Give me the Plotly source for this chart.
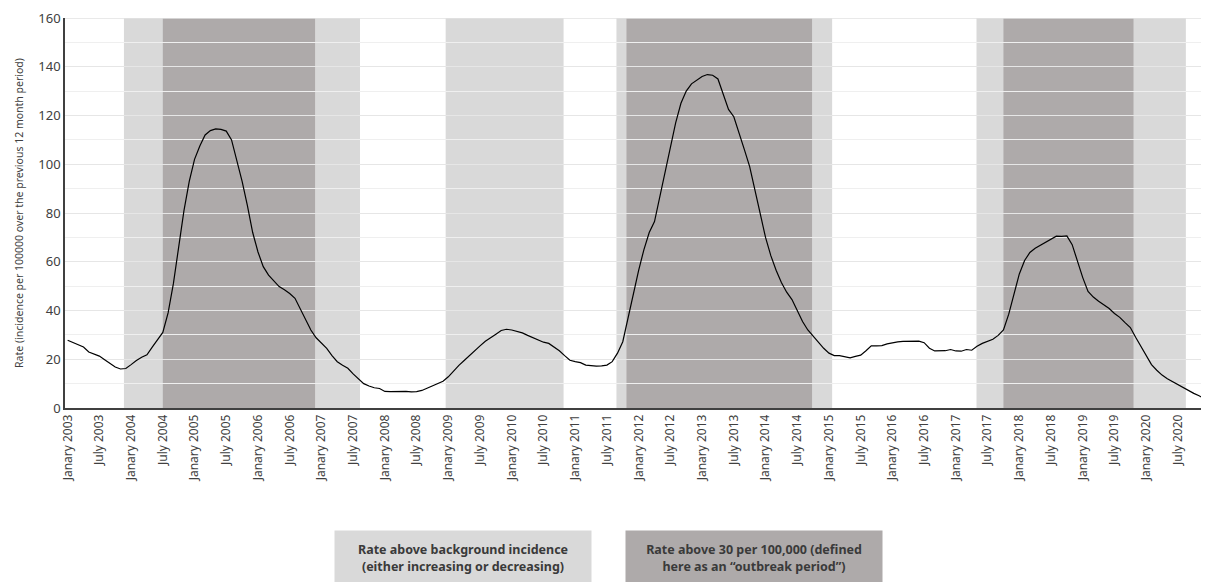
import plotly.graph_objects as go

# ---- data ----
start_year = 2003
rate = [
    27.8, 26.8, 26.0, 25.0, 23.0, 22.2, 21.3, 19.8, 18.2, 16.8, 16.0, 16.2,
    17.8, 19.5, 20.8, 21.8, 25.0, 28.0, 31.0, 39.0, 51.0, 66.0, 81.0, 93.0,
    102.0, 107.5, 112.0, 113.8, 114.5, 114.3, 113.6, 110.0, 102.0, 93.0, 83.0, 72.0,
    64.0, 58.0, 54.5, 52.0, 49.8, 48.5, 47.0, 45.0, 40.5, 36.5, 32.0, 28.8,
    26.8, 24.5, 21.5, 19.0, 17.5, 16.3, 14.0, 11.8, 10.0, 9.0, 8.3, 8.0,
    6.8, 6.7, 6.8, 7.0, 6.8, 6.6, 6.7, 7.2, 8.2, 9.0, 10.0, 11.0,
    12.8, 15.2, 17.5, 19.5, 21.6, 23.5, 25.5, 27.4, 29.0, 30.3, 31.8, 32.3,
    32.0, 31.5, 30.8, 29.8, 28.8, 27.8, 27.0, 26.5, 25.0, 23.5, 21.5, 19.6,
    19.0, 18.6, 17.6, 17.3, 17.2, 17.3, 17.6, 19.0, 22.5, 27.2, 37.0, 47.0,
    56.5, 65.0, 72.0, 76.5, 87.0, 97.0, 107.0, 117.0, 125.0, 130.0, 133.0, 134.5,
    136.0, 136.8, 136.5, 135.0, 129.0, 122.5, 119.5, 113.0, 106.0, 99.0, 89.0, 79.0,
    70.0, 62.5, 56.5, 51.5, 47.5, 44.5, 40.0, 35.5, 32.0, 29.5, 27.0, 24.5,
    22.5, 21.5, 21.5, 21.2, 20.6, 21.2, 21.7, 23.5, 25.5, 25.5, 25.6, 26.3,
    26.8, 27.1, 27.3, 27.4, 27.4, 27.4, 26.8, 24.5, 23.4, 23.4, 23.5, 24.0,
    23.4, 23.3, 24.0, 23.7, 25.3, 26.5, 27.3, 28.2, 29.8, 32.0, 38.5, 47.0,
    55.0, 60.5, 63.8, 65.5, 66.8, 68.0, 69.2, 70.5, 70.4, 70.6, 67.0, 60.0,
    53.5, 47.8, 45.5, 43.8, 42.2, 40.8, 38.8, 37.2, 35.0, 33.0, 29.0, 25.2,
    21.5, 17.8, 15.5, 13.5, 12.0, 10.8, 9.5, 8.3, 7.0, 6.0, 5.0, 3.8,
]
months = list(range(len(rate)))

# tick labels every 6 months (original spelling kept)
tick_months = list(range(0, len(rate), 6))
tick_labels = [("Janary " if m % 12 == 0 else "July ") + str(start_year + m // 12)
               for m in tick_months]

# shaded periods, in month index units
light_start = [10.65, 71.5, 103.8, 171.9]
light_end = [55.3, 93.8, 144.6, 211.5]
dark_start = [18.0, 105.7, 177.0]
dark_end = [46.8, 140.8, 201.6]

Y_MAX = 160
LIGHT = "#d9d9d9"
DARK = "#aeaaaa"

fig = go.Figure()
fig.add_trace(go.Scatter(x=months, y=rate, mode="lines",
                         line=dict(color="#000000", width=1.2),
                         showlegend=False, hoverinfo="skip"))

shapes = []
for s, e in zip(light_start, light_end):
    shapes.append(dict(type="rect", xref="x", yref="paper", x0=s, x1=e, y0=0, y1=1,
                       fillcolor=LIGHT, line=dict(width=0), layer="below"))
for s, e in zip(dark_start, dark_end):
    shapes.append(dict(type="rect", xref="x", yref="paper", x0=s, x1=e, y0=0, y1=1,
                       fillcolor=DARK, line=dict(width=0), layer="below"))
# top gridline
shapes.append(dict(type="line", xref="paper", yref="y", x0=0, x1=1, y0=Y_MAX, y1=Y_MAX,
                   line=dict(color="#e2e2e2", width=1.5), layer="between"))

# page body has an 8px margin: compensate
OFF = 8
W, H = 1209 - OFF, 582 - OFF
ml, mr, mt, mb = 65 - OFF, 2, 18 - OFF, 174
pw, ph = W - ml - mr, H - mt - mb

def px(x):  # window pixel -> paper
    return (x - OFF - ml) / pw

def py(y):
    return (H - mb - (y - OFF)) / ph

box_font = dict(family="Noto Sans, Open Sans, sans-serif", size=12.5, color="#3a3a3a")
annotations = [
    dict(xref="paper", yref="paper", x=px(463), y=py(558), xanchor="center", yanchor="middle",
         text="<b>Rate above background incidence<br>(either increasing or decreasing)</b>",
         showarrow=False, bgcolor=LIGHT, width=256, height=54, borderpad=0,
         font=box_font, align="center"),
    dict(xref="paper", yref="paper", x=px(754), y=py(558), xanchor="center", yanchor="middle",
         text="<b>Rate above 30 per 100,000 (defined<br>here as an \u201coutbreak period\u201d)</b>",
         showarrow=False, bgcolor=DARK, width=256, height=54, borderpad=0,
         font=box_font, align="center"),
]

fig.update_layout(
    width=W, height=H, autosize=False,
    margin=dict(l=ml, r=mr, t=mt, b=mb, autoexpand=False),
    plot_bgcolor="#ffffff", paper_bgcolor="#ffffff",
    shapes=shapes, annotations=annotations,
    font=dict(family="Noto Sans, Open Sans, sans-serif", color="#404040"),
    xaxis=dict(range=[-0.5, len(rate) - 0.5], tickmode="array", tickvals=tick_months,
               ticktext=tick_labels, tickangle=-90, showgrid=False, ticks="",
               showline=True, linecolor="#404040", linewidth=1.5, automargin=False,
               ticklabeloverflow="allow",
               tickfont=dict(size=12, color="#404040"), zeroline=False),
    yaxis=dict(range=[0, Y_MAX], dtick=20, tick0=0, showgrid=True, gridcolor="#e6e6e6",
               gridwidth=1.3, minor=dict(dtick=10, showgrid=True, gridcolor="#efefef", gridwidth=1.3),
               showline=True, linecolor="#404040", linewidth=1.5, ticks="", automargin=False,
               ticklabeloverflow="allow",
               tickfont=dict(size=13, color="#404040"), zeroline=False,
               title=dict(text="Rate (incidence per 100000 over the previous 12 month period)",
                          font=dict(size=10.5, color="#404040"), standoff=13)),
)

fig.write_html("out.html")
